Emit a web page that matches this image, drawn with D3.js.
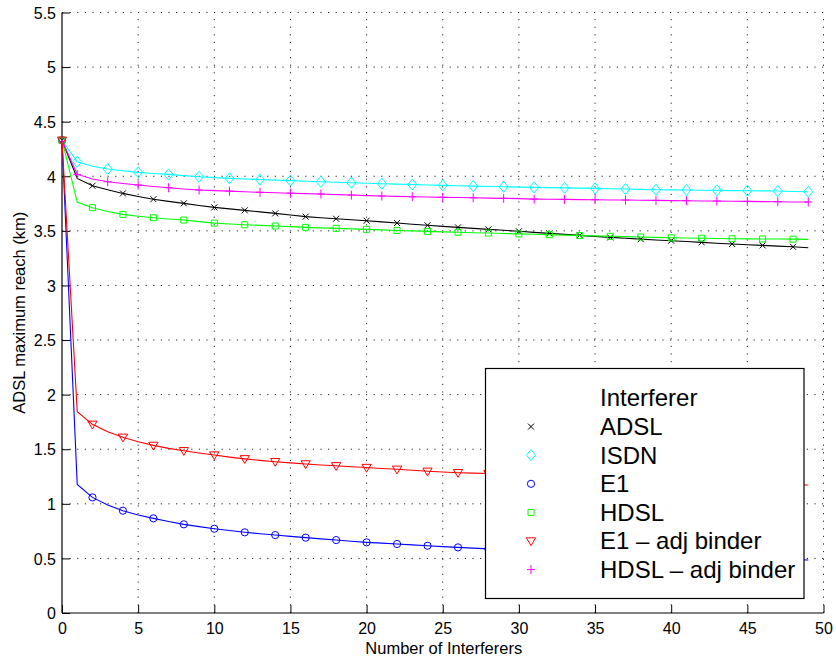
<!DOCTYPE html>
<html>
<head>
<meta charset="utf-8">
<script src="https://cdn.jsdelivr.net/npm/d3@7"></script>
<style>
  html, body { margin: 0; padding: 0; background: #fff; }
  svg { display: block; font-family: "Liberation Sans", Arial, sans-serif; }
</style>
</head>
<body>
<svg id="chart" width="836" height="660"></svg>
<script>
// Number of interferers (0 .. 49)
const interferers = d3.range(0, 50);

// ADSL maximum reach (km) for each interferer type
const adsl = [4.33, 3.98, 3.913, 3.876, 3.843, 3.815, 3.790, 3.770, 3.752, 3.733,
  3.715, 3.701, 3.688, 3.674, 3.660, 3.645, 3.630, 3.620, 3.611, 3.602,
  3.593, 3.582, 3.572, 3.561, 3.551, 3.541, 3.532, 3.523, 3.514, 3.505,
  3.496, 3.486, 3.477, 3.468, 3.459, 3.449, 3.440, 3.432, 3.424, 3.417,
  3.410, 3.402, 3.395, 3.387, 3.380, 3.373, 3.367, 3.360, 3.354, 3.346];

const isdn = [4.33, 4.133, 4.092, 4.066, 4.050, 4.036, 4.026, 4.017, 4.006, 3.996,
  3.988, 3.981, 3.975, 3.970, 3.965, 3.960, 3.955, 3.950, 3.945, 3.941,
  3.936, 3.932, 3.928, 3.924, 3.920, 3.917, 3.913, 3.910, 3.907, 3.904,
  3.901, 3.898, 3.896, 3.894, 3.891, 3.889, 3.886, 3.883, 3.880, 3.877,
  3.875, 3.874, 3.872, 3.871, 3.869, 3.868, 3.866, 3.865, 3.861, 3.858];

const e1 = [4.33, 1.178, 1.059, 0.990, 0.937, 0.898, 0.867, 0.838, 0.812, 0.791,
  0.772, 0.755, 0.739, 0.726, 0.714, 0.702, 0.690, 0.679, 0.668, 0.657,
  0.647, 0.640, 0.632, 0.624, 0.616, 0.608, 0.601, 0.594, 0.587, 0.581,
  0.575, 0.569, 0.563, 0.557, 0.552, 0.547, 0.542, 0.537, 0.532, 0.527,
  0.522, 0.518, 0.513, 0.509, 0.505, 0.501, 0.497, 0.493, 0.489, 0.485];

const hdsl = [4.33, 3.764, 3.712, 3.678, 3.651, 3.634, 3.620, 3.609, 3.599, 3.585,
  3.571, 3.563, 3.556, 3.550, 3.544, 3.539, 3.532, 3.527, 3.523, 3.518,
  3.514, 3.509, 3.504, 3.500, 3.495, 3.491, 3.487, 3.483, 3.480, 3.476,
  3.472, 3.469, 3.465, 3.461, 3.457, 3.454, 3.450, 3.447, 3.444, 3.440,
  3.437, 3.435, 3.433, 3.430, 3.428, 3.427, 3.426, 3.425, 3.424, 3.422];

const e1Adj = [4.33, 1.844, 1.728, 1.660, 1.609, 1.568, 1.535, 1.508, 1.486, 1.466,
  1.447, 1.428, 1.412, 1.398, 1.386, 1.375, 1.365, 1.356, 1.348, 1.340,
  1.332, 1.324, 1.316, 1.307, 1.298, 1.291, 1.285, 1.281, 1.277, 1.269,
  1.262, 1.255, 1.248, 1.241, 1.235, 1.229, 1.223, 1.217, 1.212, 1.208,
  1.204, 1.200, 1.196, 1.192, 1.189, 1.185, 1.182, 1.178, 1.175, 1.172];

const hdslAdj = [4.33, 4.017, 3.975, 3.950, 3.934, 3.920, 3.907, 3.895, 3.884, 3.874,
  3.869, 3.864, 3.858, 3.853, 3.849, 3.845, 3.841, 3.837, 3.832, 3.828,
  3.823, 3.819, 3.816, 3.813, 3.810, 3.807, 3.805, 3.803, 3.800, 3.798,
  3.795, 3.791, 3.789, 3.788, 3.786, 3.785, 3.783, 3.782, 3.780, 3.779,
  3.777, 3.776, 3.774, 3.773, 3.771, 3.770, 3.768, 3.767, 3.765, 3.764];

const seriesNames = ["ADSL", "ISDN", "E1", "HDSL", "E1 \u2013 adj binder", "HDSL \u2013 adj binder"];
const legendTitle = "Interferer";
const xTicks = [0, 5, 10, 15, 20, 25, 30, 35, 40, 45, 50];
const yTicks = [0, 0.5, 1, 1.5, 2, 2.5, 3, 3.5, 4, 4.5, 5, 5.5];
const xLabel = "Number of Interferers";
const yLabel = "ADSL maximum reach (km)";

// Series table: values, colour, marker shape and which points carry a marker
const series = [
  { name: seriesNames[0], values: adsl,    color: "#000000", marker: "x",       parity: 0 },
  { name: seriesNames[1], values: isdn,    color: "#00ffff", marker: "diamond", parity: 1 },
  { name: seriesNames[2], values: e1,      color: "#0000ff", marker: "circle",  parity: 0 },
  { name: seriesNames[3], values: hdsl,    color: "#00ff00", marker: "square",  parity: 0 },
  { name: seriesNames[4], values: e1Adj,   color: "#ff0000", marker: "tri",     parity: 0 },
  { name: seriesNames[5], values: hdslAdj, color: "#ff00ff", marker: "plus",    parity: 1 }
];

const svg = d3.select("#chart");
const plot = { left: 62, right: 823.5, top: 12.5, bottom: 613 };

const x = d3.scaleLinear().domain([0, 50]).range([plot.left, plot.right]);
const y = d3.scaleLinear().domain([0, 5.5]).range([plot.bottom, plot.top]);

// Dotted grid
const grid = svg.append("g").attr("stroke", "#222").attr("stroke-width", 1)
  .attr("stroke-dasharray", "1.2,6.4").attr("fill", "none");
xTicks.filter(t => t > 0).forEach(t => {
  grid.append("line").attr("x1", x(t)).attr("x2", x(t))
    .attr("y1", plot.bottom).attr("y2", plot.top);
});
yTicks.filter(t => t > 0).forEach(t => {
  grid.append("line").attr("x1", plot.left).attr("x2", plot.right)
    .attr("y1", y(t)).attr("y2", y(t));
});

// Axes with inward ticks
const xAxis = d3.axisBottom(x).tickValues(xTicks).tickSize(-8).tickPadding(10)
  .tickFormat(d3.format("d"));
const yAxis = d3.axisLeft(y).tickValues(yTicks).tickSize(-8).tickPadding(6)
  .tickFormat(d => String(d));

const gx = svg.append("g").attr("transform", `translate(0,${plot.bottom})`).call(xAxis);
const gy = svg.append("g").attr("transform", `translate(${plot.left},0)`).call(yAxis);
[gx, gy].forEach(g => {
  g.select(".domain").attr("stroke", "#000").attr("stroke-width", 1.2).attr("d",
    g === gx ? `M${plot.left},0H${plot.right}` : `M0,${plot.bottom}V${plot.top}`);
  g.selectAll(".tick line").attr("stroke", "#000").attr("stroke-width", 1);
  g.selectAll(".tick text").attr("fill", "#000").attr("font-size", 16)
    .attr("font-family", "Liberation Sans, Arial, sans-serif");
});
gy.selectAll(".tick text").attr("dy", "0.36em");

// Axis titles
svg.append("text").attr("x", (plot.left + plot.right) / 2 + 1).attr("y", 654)
  .attr("text-anchor", "middle").attr("font-size", 16.5).text(xLabel);
svg.append("text").attr("transform", `translate(25,${(plot.top + plot.bottom) / 2}) rotate(-90)`)
  .attr("text-anchor", "middle").attr("font-size", 16.5).text(yLabel);

// Marker path generators centred on (0,0)
function markerPath(kind) {
  switch (kind) {
    case "x": return "M-3,-3L3,3M-3,3L3,-3";
    case "diamond": return "M0,-5.5L4.5,0L0,5.5L-4.5,0Z";
    case "square": return "M-3,-3H3V3H-3Z";
    case "tri": return "M-4.6,-3.2H4.6L0,4.6Z";
    case "plus": return "M-4,0H4M0,-4.5V4.5";
    default: return null;
  }
}
function drawMarker(g, kind, color, cx, cy) {
  if (kind === "circle") {
    g.append("circle").attr("cx", cx).attr("cy", cy).attr("r", 3.6)
      .attr("fill", "none").attr("stroke", color).attr("stroke-width", 1);
  } else {
    g.append("path").attr("d", markerPath(kind))
      .attr("transform", `translate(${cx},${cy})`)
      .attr("fill", "none").attr("stroke", color).attr("stroke-width", 1);
  }
}

const line = d3.line().x((d, i) => x(interferers[i])).y(d => y(d));

series.forEach(s => {
  const g = svg.append("g");
  g.append("path").datum(s.values).attr("d", line)
    .attr("fill", "none").attr("stroke", s.color).attr("stroke-width", 1.1);
  s.values.forEach((v, i) => {
    if (interferers[i] % 2 === s.parity) drawMarker(g, s.marker, s.color, x(interferers[i]), y(v));
  });
});

// Legend
const lg = svg.append("g");
lg.append("rect").attr("x", 485.5).attr("y", 368.5).attr("width", 318.5).attr("height", 230)
  .attr("fill", "#fff").attr("stroke", "#000").attr("stroke-width", 1.2);
const rowY0 = 398, rowStep = 28.6;
lg.append("text").attr("x", 600).attr("y", rowY0).attr("dy", "0.35em")
  .attr("font-size", 24).text(legendTitle);
series.forEach((s, k) => {
  const ry = rowY0 + rowStep * (k + 1);
  drawMarker(lg, s.marker, s.color, 531, ry);
  lg.append("text").attr("x", 600).attr("y", ry).attr("dy", "0.35em")
    .attr("font-size", 24).text(s.name);
});
</script>
</body>
</html>
